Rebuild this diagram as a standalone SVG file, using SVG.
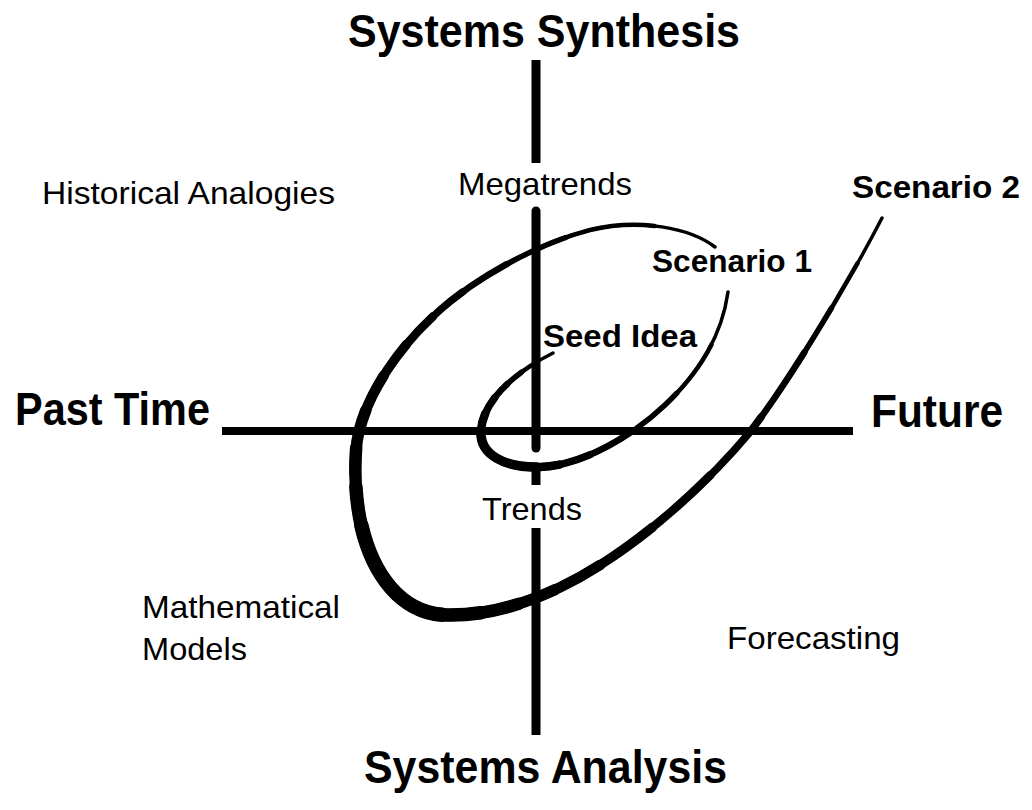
<svg xmlns="http://www.w3.org/2000/svg" xmlns:xlink="http://www.w3.org/1999/xlink" width="1032" height="810" viewBox="0 0 1032 810">
<style>
text{font-family:"Liberation Sans",Arial,sans-serif;fill:#000}
.big{font-weight:bold;font-size:46px}
.lbl{font-size:32px}
.bl{font-size:32px;font-weight:bold}
.ax{stroke:#000;fill:none}
.sp{fill:none;stroke:#000;stroke-linecap:round;stroke-linejoin:round}
</style>
<defs>
<path id="curveA" pathLength="100" d="M553,353 C525,367 484,395 481,430 C479,455 505,468 540,467 C580,466 630,438 665,405 C700,372 722,335 728,292"/>
<path id="curveB" pathLength="100" d="M715,247 C690,228 640,218 590,230 C540,243 480,275 440,310 C400,345 360,400 356,450 C350,540 385,614 447,615 C492,616 545,600 600,565 C655,530 710,480 750,432 C790,380 850,280 882,218"/>
</defs>
<rect width="1032" height="810" fill="#fff"/>
<g id="axes">
<line class="ax" x1="222" y1="431" x2="853" y2="431" stroke-width="8"/>
<line class="ax" x1="536" y1="60" x2="536" y2="163" stroke-width="9"/>
<line class="ax" x1="536" y1="211" x2="536" y2="448" stroke-width="9" stroke-linecap="round"/>
<line class="ax" x1="536" y1="470" x2="536" y2="485" stroke-width="9"/>
<line class="ax" x1="536" y1="528" x2="536" y2="735" stroke-width="9"/>
</g>
<g id="spiral">
<use xlink:href="#curveA" class="sp" stroke-width="3.5"/>
<use xlink:href="#curveA" class="sp" stroke-width="4.5" stroke-dasharray="84 1000" stroke-dashoffset="-4"/>
<use xlink:href="#curveA" class="sp" stroke-width="5.5" stroke-dasharray="67 1000" stroke-dashoffset="-8"/>
<use xlink:href="#curveA" class="sp" stroke-width="6.5" stroke-dasharray="50 1000" stroke-dashoffset="-12"/>
<use xlink:href="#curveA" class="sp" stroke-width="7.5" stroke-dasharray="36 1000" stroke-dashoffset="-16"/>
<use xlink:href="#curveA" class="sp" stroke-width="8.5" stroke-dasharray="25 1000" stroke-dashoffset="-20"/>
<use xlink:href="#curveA" class="sp" stroke-width="9.5" stroke-dasharray="16 1000" stroke-dashoffset="-24"/>
<use xlink:href="#curveB" class="sp" stroke-width="3.5"/>
<use xlink:href="#curveB" class="sp" stroke-width="4.5" stroke-dasharray="91 1000" stroke-dashoffset="-5"/>
<use xlink:href="#curveB" class="sp" stroke-width="5.5" stroke-dasharray="80 1000" stroke-dashoffset="-12"/>
<use xlink:href="#curveB" class="sp" stroke-width="6.5" stroke-dasharray="71 1000" stroke-dashoffset="-17"/>
<use xlink:href="#curveB" class="sp" stroke-width="7.5" stroke-dasharray="61 1000" stroke-dashoffset="-21"/>
<use xlink:href="#curveB" class="sp" stroke-width="8.5" stroke-dasharray="52 1000" stroke-dashoffset="-24"/>
<use xlink:href="#curveB" class="sp" stroke-width="9.5" stroke-dasharray="43 1000" stroke-dashoffset="-27"/>
<use xlink:href="#curveB" class="sp" stroke-width="10.5" stroke-dasharray="35 1000" stroke-dashoffset="-30"/>
<use xlink:href="#curveB" class="sp" stroke-width="11.5" stroke-dasharray="28 1000" stroke-dashoffset="-33"/>
<use xlink:href="#curveB" class="sp" stroke-width="12.5" stroke-dasharray="22 1000" stroke-dashoffset="-36"/>
<use xlink:href="#curveB" class="sp" stroke-width="13.5" stroke-dasharray="16 1000" stroke-dashoffset="-39"/>
<use xlink:href="#curveB" class="sp" stroke-width="14.5" stroke-dasharray="10 1000" stroke-dashoffset="-42"/>
</g>
<g id="title-synthesis"><text class="big" x="348" y="47" textLength="392" lengthAdjust="spacingAndGlyphs">Systems Synthesis</text></g>
<g id="title-analysis"><text class="big" x="364" y="783" textLength="363" lengthAdjust="spacingAndGlyphs">Systems Analysis</text></g>
<g id="title-past"><text class="big" x="15" y="425" textLength="195" lengthAdjust="spacingAndGlyphs">Past Time</text></g>
<g id="title-future"><text class="big" x="871" y="427" textLength="132" lengthAdjust="spacingAndGlyphs">Future</text></g>
<g id="historical"><text class="lbl" x="42" y="204" textLength="293" lengthAdjust="spacingAndGlyphs">Historical Analogies</text></g>
<g id="megatrends"><text class="lbl" x="458" y="195" textLength="174" lengthAdjust="spacingAndGlyphs">Megatrends</text></g>
<g id="scenario2"><text class="bl" x="852" y="198" textLength="168" lengthAdjust="spacingAndGlyphs">Scenario 2</text></g>
<g id="scenario1"><text class="bl" x="652" y="272" textLength="160" lengthAdjust="spacingAndGlyphs">Scenario 1</text></g>
<g id="seed"><text class="bl" x="543" y="347" textLength="154" lengthAdjust="spacingAndGlyphs">Seed Idea</text></g>
<g id="trends"><text class="lbl" x="482" y="520" textLength="100" lengthAdjust="spacingAndGlyphs">Trends</text></g>
<g id="math"><text class="lbl" x="142" y="618" textLength="198" lengthAdjust="spacingAndGlyphs">Mathematical</text><text class="lbl" x="142" y="660" textLength="105" lengthAdjust="spacingAndGlyphs">Models</text></g>
<g id="forecasting"><text class="lbl" x="727" y="649" textLength="173" lengthAdjust="spacingAndGlyphs">Forecasting</text></g>
</svg>
